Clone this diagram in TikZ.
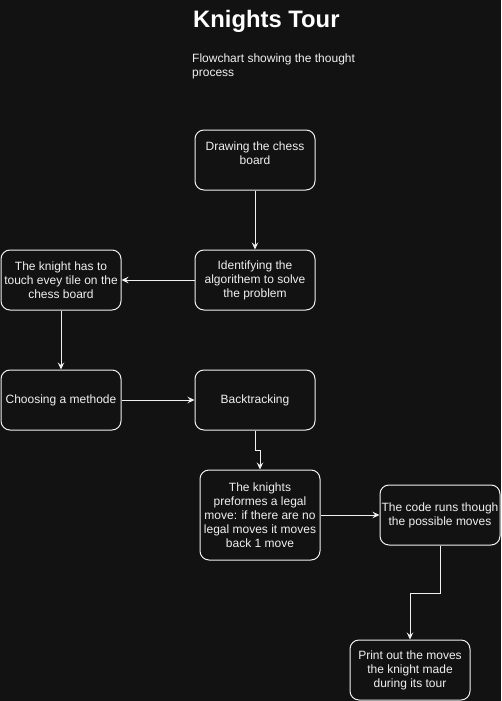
\documentclass[tikz,border=0pt]{standalone}
\usepackage{fontspec}
\setmainfont{Liberation Sans}
\usetikzlibrary{arrows.meta}
\definecolor{bg}{RGB}{18,18,18}
\definecolor{fg}{RGB}{240,240,240}
\begin{document}
\begin{tikzpicture}[x=1pt,y=-1pt,
  box/.style={draw=fg, line width=1pt, rounded corners=9pt, text=fg, align=center,
    font=\fontsize{12}{14}\selectfont, inner sep=0pt},
  conn/.style={draw=fg, line width=1pt, -{Stealth[length=7pt,width=6.5pt,inset=2.5pt]}}]
\fill[bg] (0,0) rectangle (501,701);
\useasboundingbox (0,0) rectangle (501,701);
\node[anchor=base west, text=white, font=\fontsize{23.8}{28}\bfseries\selectfont, inner sep=0pt] (title) at (193,28) {Knights Tour};
\node[anchor=base west, text=fg, font=\fontsize{12}{14}\selectfont, align=left, inner sep=0pt] (sub) at (192,77) {Flowchart showing the thought\\process};
\node[box, minimum width=120pt, minimum height=60pt] (draw) at (255,160) {Drawing the chess\\board\\~};
\node[box, minimum width=120pt, minimum height=60pt] (ident) at (255,280) {Identifying the\\algorithem to solve\\the problem};
\node[box, minimum width=120pt, minimum height=60pt] (touch) at (61,280) {The knight has to\\touch evey tile on the\\chess board};
\node[box, minimum width=120pt, minimum height=60pt] (choose) at (61,400) {Choosing a methode};
\node[box, minimum width=120pt, minimum height=60pt] (back) at (255,400) {Backtracking};
\node[box, minimum width=120pt, minimum height=90pt] (legal) at (260,515) {The knights\\preformes a legal\\move: if there are no\\legal moves it moves\\back 1 move};
\node[box, minimum width=120pt, minimum height=60pt] (code) at (440,515) {The code runs though\\the possible moves};
\node[box, minimum width=120pt, minimum height=60pt] (print) at (410,670) {Print out the moves\\the knight made\\during its tour};
\draw[conn] (draw.south) -- (ident.north);
\draw[conn] (ident.west) -- (touch.east);
\draw[conn] (touch.south) -- (choose.north);
\draw[conn] (choose.east) -- (back.west);
\draw[conn] (back.south) -- ++(0,20) -| (legal.north);
\draw[conn] (legal.east) -- (code.west);
\draw[conn] (code.south) -- ++(0,48) -| (print.north);
\end{tikzpicture}
\end{document}
